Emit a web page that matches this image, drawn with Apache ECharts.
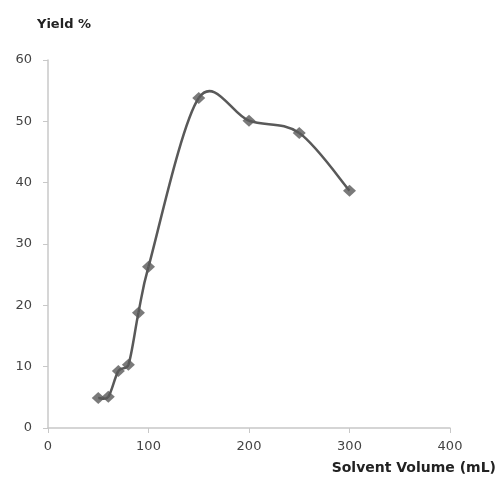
<!DOCTYPE html>
<html><head><meta charset="utf-8">
<script src="https://cdn.jsdelivr.net/npm/echarts@6/dist/echarts.min.js"></script>
<style>html,body{margin:0;padding:0;background:#fff}#c{width:500px;height:479px}</style>
</head><body><div id="c"></div>
<script>
var volumes = [50, 60, 70, 80, 90, 100, 150, 200, 250, 300];
var yields = [4.9, 5.1, 9.3, 10.3, 18.8, 26.3, 53.8, 50.1, 48.1, 38.7];
var xTicks = [0, 100, 200, 300, 400];
var yTicks = [0, 10, 20, 30, 40, 50, 60];

var points = volumes.map(function (v, i) { return [v, yields[i]]; });

function renderSegment(params, api) {
  var i = params.dataIndex;
  var n = points.length;
  if (i >= n - 1) return null;
  function P(k) {
    k = Math.max(0, Math.min(n - 1, k));
    return api.coord(points[k]);
  }
  function dist(a, b) {
    var dx = b[0] - a[0], dy = b[1] - a[1];
    return Math.sqrt(dx * dx + dy * dy) || 1e-9;
  }
  var p0 = P(i - 1), p1 = P(i), p2 = P(i + 1), p3 = P(i + 2);
  var d12 = dist(p1, p2);
  var d02 = dist(p0, p2), d13 = dist(p1, p3);
  var l1 = Math.min(d02 / 6, d12 / 2);
  var l2 = Math.min(d13 / 6, d12 / 2);
  var c1 = [p1[0] + (p2[0] - p0[0]) / d02 * l1, p1[1] + (p2[1] - p0[1]) / d02 * l1];
  var c2 = [p2[0] - (p3[0] - p1[0]) / d13 * l2, p2[1] - (p3[1] - p1[1]) / d13 * l2];
  return {
    type: 'bezierCurve',
    shape: {x1: p1[0], y1: p1[1], cpx1: c1[0], cpy1: c1[1], cpx2: c2[0], cpy2: c2[1], x2: p2[0], y2: p2[1]},
    style: {stroke: '#595959', lineWidth: 2.5, fill: null},
    silent: true
  };
}

var chart = echarts.init(document.getElementById('c'), null, {renderer: 'canvas'});
chart.setOption({
  animation: false,
  backgroundColor: '#fff',
  grid: {left: 48, right: 50, top: 60, bottom: 51},
  xAxis: {
    type: 'value', min: xTicks[0], max: xTicks[xTicks.length - 1], interval: 100,
    axisLine: {lineStyle: {color: '#c8c8c8', width: 1.5}},
    axisTick: {show: true, length: 5, lineStyle: {color: '#c8c8c8'}},
    splitLine: {show: false},
    axisLabel: {color: '#444', fontSize: 13, fontFamily: 'DejaVu Sans', margin: 12}
  },
  yAxis: {
    type: 'value', min: yTicks[0], max: yTicks[yTicks.length - 1], interval: 10,
    axisLine: {show: true, lineStyle: {color: '#c8c8c8', width: 1.5}},
    axisTick: {show: true, length: 5, lineStyle: {color: '#c8c8c8'}},
    splitLine: {show: false},
    axisLabel: {color: '#444', fontSize: 13, fontFamily: 'DejaVu Sans', margin: 16}
  },
  graphic: [
    {type: 'text', left: 37, top: 18, style: {text: 'Yield %', fontSize: 13, fontWeight: 'bold', fontFamily: 'DejaVu Sans', fill: '#222'}},
    {type: 'text', right: 4, top: 461, style: {text: 'Solvent Volume (mL)', fontSize: 14, fontWeight: 'bold', fontFamily: 'DejaVu Sans', fill: '#222'}}
  ],
  series: [{
    type: 'custom',
    data: points,
    renderItem: renderSegment,
    encode: {x: 0, y: 1},
    clip: false,
    z: 2
  }, {
    type: 'scatter',
    data: points,
    symbol: 'diamond',
    symbolSize: [13, 12],
    itemStyle: {color: '#595959'},
    z: 3
  }]
});
</script></body></html>
